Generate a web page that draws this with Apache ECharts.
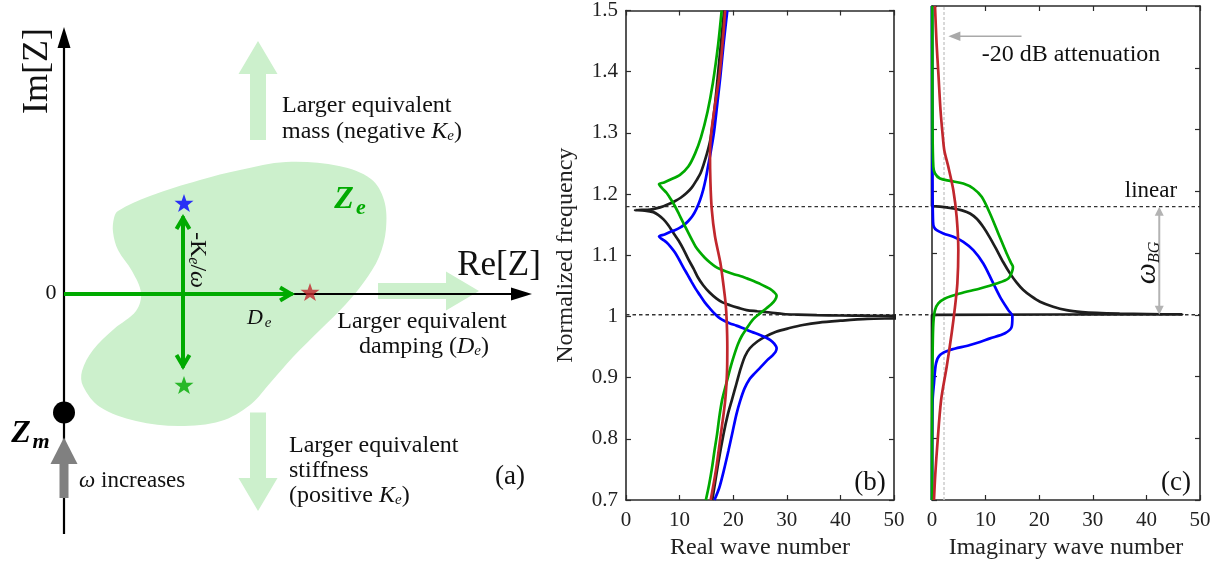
<!DOCTYPE html>
<html>
<head>
<meta charset="utf-8">
<script src="https://cdn.jsdelivr.net/npm/echarts@6/dist/echarts.min.js"></script>
<style>
  html, body { margin: 0; padding: 0; background: #fff; }
  #chart { width: 1222px; height: 565px; }
</style>
</head>
<body>
<div id="chart"></div>
<script>
// ---------- Panel (a): impedance plane schematic (Re/Im in arbitrary units) ----------
const zeRegion = [
  [5.0, 7.6], [5.4, 8.3], [8.6, 9.8], [13.6, 11.4], [17.6, 12.4], [22.2, 13.2], [27.5, 12.8],
  [30.7, 11.5], [32.0, 9.4], [32.2, 6.5], [31.5, 3.7], [30.0, 1.2], [28.2, -1.0], [25.7, -3.5],
  [22.9, -6.3], [20.7, -8.8], [18.6, -11.1], [15.7, -12.7], [11.5, -13.2], [7.2, -12.7],
  [3.6, -11.3], [1.9, -9.2], [1.8, -7.7], [2.9, -5.6], [5.0, -3.5], [7.2, -1.7], [7.7, 0.1],
  [6.8, 2.3], [5.4, 4.4], [4.9, 6.2]
];
const imAxis = [0, -24, 0, 26.7];
const reAxis = [0, 0, 46.8, 0];
const dampingArrow = [0, 0, 23.1, 0];
const stiffnessArrow = [11.9, 8.0, 11.9, -7.6];
const trendArrows = [
  [19.4, 15.4, 19.4, 25.3],    // larger equivalent mass
  [19.4, -11.85, 19.4, -21.7], // larger equivalent stiffness
  [31.4, 0.3, 41.5, 0.3]       // larger equivalent damping
];
const omegaArrow = [0, -20.4, 0, -14.35];
const zmPoint = [0, -11.85];
const zePoints = [[12.0, 9.1], [12.0, -9.1], [24.6, 0.2]];

// ---------- Panels (b), (c): dispersion curves [wave number, normalized frequency] ----------
const waveTicks = [0, 10, 20, 30, 40, 50];
const freqTicks = [0.7, 0.8, 0.9, 1.0, 1.1, 1.2, 1.3, 1.4, 1.5];
const guideLevels = [1.175, 1.0];   // linear band edge and resonance
const attenuationLevel = 2.24;      // -20 dB attenuation in imaginary wave number
const attenuationArrow = [16.7, 1.451, 3.05, 1.451];
const bandgapArrow = [42.4, 1.0, 42.4, 1.175];

const realBlack = [
  [16.1,0.70],[17.2,0.76],[18.2,0.808],[19.0,0.84],[19.8,0.865],[20.6,0.89],[21.4,0.915],[22.2,0.935],
  [23.1,0.948],[24.5,0.959],[26.0,0.967],[28.0,0.975],[30.5,0.981],[33.0,0.986],[36.0,0.990],[40.0,0.993],
  [45.0,0.996],[52.0,0.998],
  [52.0,1.001],[45.0,1.0012],[40.0,1.0015],[35.6,1.002],[32.0,1.003],[29.4,1.004],[26.9,1.0064],[24.5,1.0085],
  [22.5,1.0103],[21.0,1.014],[19.4,1.0184],[18.0,1.023],[16.9,1.029],[15.6,1.039],[14.4,1.051],[13.4,1.064],
  [12.6,1.078],[11.6,1.094],[10.7,1.110],[9.8,1.124],[8.8,1.137],[7.9,1.149],[7.0,1.1586],[6.0,1.166],
  [5.1,1.1705],[3.5,1.173],[1.7,1.1737],[3.0,1.174],[4.5,1.1747],[5.8,1.177],[7.0,1.1802],[8.1,1.184],
  [9.1,1.1883],[10.2,1.194],[11.3,1.2017],[12.3,1.211],[13.2,1.2232],[13.9,1.234],[14.43,1.247],[15.1,1.266],
  [15.7,1.287],[16.1,1.31],[16.6,1.346],[17.1,1.39],[17.7,1.445],[18.3,1.5]
];
const realBlue = [
  [18.9,1.5],[18.2,1.445],[17.6,1.392],[17.0,1.345],[16.4,1.30],[15.75,1.266],[15.3,1.245],[14.9,1.226],
  [14.4,1.207],[13.8,1.19],[13.1,1.175],[12.4,1.164],[11.63,1.1559],[10.9,1.150],[10.07,1.1451],[9.1,1.141],
  [8.21,1.1381],[7.2,1.134],[6.16,1.1305],[6.8,1.126],[7.59,1.1208],[8.4,1.113],[9.14,1.1046],[9.9,1.093],
  [10.69,1.0803],[11.5,1.068],[12.26,1.0561],[13.0,1.045],[13.81,1.0345],[14.7,1.023],[15.67,1.0129],[16.6,1.004],
  [17.54,0.9967],[18.5,0.992],[19.4,0.9886],[20.6,0.985],[21.88,0.9805],[23.4,0.975],[25.0,0.9698],[26.0,0.966],
  [26.87,0.9617],[27.6,0.956],[28.1,0.948],[27.9,0.942],[27.3,0.936],[26.4,0.929],[25.0,0.916],[24.0,0.907],
  [23.1,0.898],[22.1,0.882],[21.3,0.862],[20.6,0.84],[19.9,0.812],[19.1,0.78],[18.3,0.75],[17.4,0.72],[16.5,0.70]
];
const realGreen = [
  [17.85,1.5],[17.2,1.445],[16.2,1.381],[15.2,1.334],[14.0,1.293],[12.9,1.2665],[11.63,1.2449],[10.07,1.2314],
  [8.21,1.2233],[7.1,1.219],[6.16,1.2163],[6.8,1.209],[7.59,1.2017],[8.4,1.191],[9.14,1.1801],[9.9,1.167],
  [10.69,1.153],[11.5,1.139],[12.26,1.126],[13.0,1.114],[13.81,1.1047],[14.7,1.096],[15.67,1.0882],[16.6,1.082],
  [17.54,1.0774],[18.8,1.073],[20.0,1.0693],[21.3,1.066],[22.5,1.0623],[23.8,1.058],[25.0,1.0532],[26.0,1.049],
  [26.87,1.045],[27.6,1.04],[28.1,1.034],[27.8,1.027],[27.1,1.02],[26.2,1.0134],[25.0,1.005],[23.8,0.996],
  [23.1,0.988],[22.4,0.979],[21.6,0.968],[20.9,0.955],[20.3,0.94],[19.6,0.92],[19.0,0.90],[18.4,0.88],
  [17.9,0.862],[17.4,0.835],[17.0,0.808],[16.5,0.78],[16.0,0.75],[15.5,0.725],[14.9,0.70]
];
const realRed = [
  [15.8,0.70],[16.8,0.75],[17.7,0.808],[18.5,0.862],[18.85,0.91],[18.9,0.95],[18.8,0.99],[18.6,1.02],
  [18.2,1.05],[17.6,1.088],[16.6,1.131],[16.0,1.175],[15.75,1.22],[15.67,1.266],[15.9,1.30],[16.6,1.345],
  [17.4,1.392],[18.0,1.445],[18.5,1.5]
];

const imagBlack = [
  [0,1.5],[0,1.176],[1.5,1.1752],[3.98,1.172],[5.6,1.169],[7.09,1.164],[8.4,1.155],[9.57,1.142],[10.8,1.125],
  [12.07,1.105],[13.3,1.085],[14.55,1.067],[15.8,1.052],[17.04,1.04],[18.5,1.03],[20.15,1.021],[22.6,1.013],
  [25.1,1.0076],[28.0,1.0045],[30.7,1.003],[35.0,1.0018],[40.1,1.001],[46.7,1.0005],[46.7,0.9998],[0,0.9998],[0,0.7]
];
const imagBlue = [
  [0,1.5],[0.05,1.30],[0.1,1.20],[0.2,1.15],[0.35,1.1423],[0.87,1.137],[2.11,1.1317],[3.98,1.1262],[5.84,1.118],
  [7.71,1.1046],[9.57,1.083],[11.14,1.0561],[12.69,1.029],[14.24,1.0075],[15.0,0.998],[14.87,0.9805],[13.62,0.970],
  [10.82,0.9617],[7.09,0.951],[3.36,0.9428],[1.49,0.9347],[0.75,0.9213],[0.37,0.889],[0.12,0.862],[0.03,0.8],[0,0.7]
];
const imagGreen = [
  [0.05,1.5],[0.1,1.30],[0.25,1.2394],[0.56,1.2287],[1.49,1.2206],[3.36,1.2168],[5.84,1.2125],[7.71,1.2045],
  [9.27,1.1909],[10.82,1.164],[12.37,1.1316],[13.93,1.0993],[14.8,1.083],[15.1,1.0776],[15.0,1.0715],[14.24,1.0588],
  [12.07,1.0507],[8.96,1.0426],[5.22,1.0345],[2.43,1.0264],[1.18,1.0183],[0.56,1.0075],[0.25,0.986],[0.12,0.9428],
  [0.02,0.862],[0,0.7]
];
const imagRed = [
  [0.56,1.5],[0.85,1.44],[1.18,1.392],[1.6,1.33],[2.0,1.29],[2.3,1.266],[3.05,1.2394],[3.98,1.2017],[4.6,1.1585],
  [4.91,1.1046],[4.73,1.0507],[4.29,1.0129],[3.67,0.970],[2.74,0.9158],[1.7,0.862],[1.0,0.79],[0.6,0.74],[0.37,0.7]
];

// ---------- styling ----------
const SERIF = '"Liberation Serif", "Times New Roman", Times, serif';
const INK = '#111111';
const AXIS = '#2b2b2b';
const GREEN = '#00aa00', BLUE = '#0000ff', RED = '#c1272d', BLACK = '#1e1e1e';
const PALE = '#ccf0cc', GREY = '#808080';

function arrowPath(p0, p1, o) {
  const dx = p1[0] - p0[0], dy = p1[1] - p0[1], L = Math.hypot(dx, dy) || 1;
  const ux = dx / L, uy = dy / L, nx = -uy, ny = ux;
  const ext = o.open ? (o.width / 2) / Math.sin(Math.atan2(o.half, o.len)) : 0;
  const head = (t, sx, sy) => {
    const tx = t[0] - sx * ext, ty = t[1] - sy * ext;
    const bx = tx - sx * o.len, by = ty - sy * o.len;
    const pts = [[bx + nx * o.half, by + ny * o.half], [tx, ty], [bx - nx * o.half, by - ny * o.half]];
    return o.open
      ? { type: 'polyline', shape: { points: pts }, style: { stroke: o.color, lineWidth: o.width, fill: null, lineJoin: 'miter' } }
      : { type: 'polygon', shape: { points: pts }, style: { fill: o.color } };
  };
  const cut = o.open ? o.width * 0.6 : o.len * 0.7;
  const a = o.both ? [p0[0] + ux * cut, p0[1] + uy * cut] : p0;
  const b = [p1[0] - ux * cut, p1[1] - uy * cut];
  const children = [
    { type: 'line', shape: { x1: a[0], y1: a[1], x2: b[0], y2: b[1] }, style: { stroke: o.color, lineWidth: o.width } },
    head(p1, ux, uy)
  ];
  if (o.both) children.push(head(p0, -ux, -uy));
  return { type: 'group', children };
}

function arrowSeries(data, xi, yi, o, z) {
  return {
    type: 'custom', xAxisIndex: xi, yAxisIndex: yi, data, clip: false, silent: true, z: z || 3,
    renderItem: (params, api) => arrowPath(
      api.coord([api.value(0), api.value(1)]), api.coord([api.value(2), api.value(3)]), o)
  };
}

function blockArrowSeries(data, shaft, half, len) {
  return {
    type: 'custom', xAxisIndex: 0, yAxisIndex: 0, data, clip: false, silent: true, z: 1,
    renderItem: (params, api) => {
      const p0 = api.coord([api.value(0), api.value(1)]);
      const p1 = api.coord([api.value(2), api.value(3)]);
      const dx = p1[0] - p0[0], dy = p1[1] - p0[1], L = Math.hypot(dx, dy);
      const ux = dx / L, uy = dy / L, nx = -uy, ny = ux;
      const bx = p1[0] - ux * len, by = p1[1] - uy * len;
      return {
        type: 'polygon',
        shape: { points: [
          [p0[0] + nx * shaft, p0[1] + ny * shaft], [bx + nx * shaft, by + ny * shaft],
          [bx + nx * half, by + ny * half], p1, [bx - nx * half, by - ny * half],
          [bx - nx * shaft, by - ny * shaft], [p0[0] - nx * shaft, p0[1] - ny * shaft]
        ] },
        style: { fill: PALE }
      };
    }
  };
}

function curve(data, color, xi, yi) {
  return {
    type: 'line', xAxisIndex: xi, yAxisIndex: yi, data, showSymbol: false, smooth: 0.3,
    silent: true, z: 2, lineStyle: { color, width: 2.7 }
  };
}

function frameAxis(grid, pos, extra) {
  return Object.assign({
    gridIndex: grid, type: 'value', position: pos,
    axisLine: { show: true, onZero: false, lineStyle: { color: AXIS, width: 1.6 } },
    axisTick: { show: true, inside: true, length: 5, lineStyle: { color: AXIS, width: 1.2 } },
    axisLabel: { show: false }, splitLine: { show: false }
  }, extra);
}

const waveRange = { min: waveTicks[0], max: waveTicks[waveTicks.length - 1], interval: waveTicks[1] - waveTicks[0] };
const freqRange = { min: freqTicks[0], max: freqTicks[freqTicks.length - 1], interval: 0.1 };
const tickLabel = { show: true, fontFamily: SERIF, fontSize: 21, color: '#222' };
const axisName = { fontFamily: SERIF, fontSize: 24, color: '#222' };

function T(x, y, text, size, style, el) {
  return Object.assign({
    type: 'text', x, y, z: 50, silent: true,
    style: Object.assign({ text, fontFamily: SERIF, fontSize: size, fill: INK, align: 'center', verticalAlign: 'middle' }, style || {})
  }, el || {});
}
function tok(size, italic, extra) {
  return Object.assign({ fontFamily: SERIF, fontSize: size, fontStyle: italic ? 'italic' : 'normal', fill: INK, color: INK,
    lineHeight: Math.round(size * 1.1), verticalAlign: 'bottom' }, extra || {});
}
function sub(size) { return tok(size, true, { lineHeight: Math.round(size * 0.9) }); }

const graphic = [
  T(38, 71, 'Im[Z]', 36, null, { rotation: Math.PI / 2 }),
  T(499, 266, 'Re[Z]', 35),
  T(51, 293, '0', 22),
  T(344, 200, 'Z', 32, { fontStyle: 'italic', fontWeight: 'bold', fill: GREEN }),
  T(361, 208, 'e', 22, { fontStyle: 'italic', fontWeight: 'bold', fill: GREEN }),
  T(21, 434, 'Z', 32, { fontStyle: 'italic', fontWeight: 'bold', fill: '#000' }),
  T(41, 442, 'm', 22, { fontStyle: 'italic', fontWeight: 'bold', fill: '#000' }),
  T(198, 260, '{r|-K}{s|e}{r|/}{w|ω}', 24, { rich: { r: tok(24, false), s: sub(16), w: tok(24, true) } }, { rotation: -Math.PI / 2 }),
  T(255, 318, 'D', 22, { fontStyle: 'italic' }),
  T(268, 323, 'e', 15, { fontStyle: 'italic' }),
  T(282, 106, 'Larger equivalent', 24, { align: 'left' }),
  T(282, 131, '{r|mass (negative }{i|K}{s|e}{r|)}', 24, { align: 'left', rich: { r: tok(24, false), i: tok(24, true), s: sub(15) } }),
  T(422, 322, 'Larger equivalent', 24),
  T(424, 346, '{r|damping (}{i|D}{s|e}{r|)}', 24, { rich: { r: tok(24, false), i: tok(24, true), s: sub(15) } }),
  T(289, 446, 'Larger equivalent', 24, { align: 'left' }),
  T(289, 471, 'stiffness', 24, { align: 'left' }),
  T(289, 495, '{r|(positive }{i|K}{s|e}{r|)}', 24, { align: 'left', rich: { r: tok(24, false), i: tok(24, true), s: sub(15) } }),
  T(510, 477, '(a)', 27),
  T(79, 480, '{w|ω}{r| increases}', 23, { align: 'left', rich: { w: tok(23, true), r: tok(23, false) } }),
  T(870, 483, '(b)', 27),
  T(1176, 483, '(c)', 27),
  T(1071, 55, '-20 dB attenuation', 24),
  T(1151, 191, 'linear', 23),
  T(1146, 263, '{w|ω}{s|BG}', 30, { rich: { w: tok(30, true), s: sub(16) } }, { rotation: Math.PI / 2 })
];

const option = {
  animation: false,
  backgroundColor: '#ffffff',
  grid: [
    { left: 0, top: 0, width: 560, height: 565 },
    { left: 626, top: 6, width: 268, height: 494 },
    { left: 932, top: 6, width: 268, height: 494 },
    { left: 626, top: 6, width: 574, height: 494 }
  ],
  xAxis: [
    { gridIndex: 0, type: 'value', min: -6.4, max: 49.6, show: false },
    frameAxis(1, 'bottom', Object.assign({}, waveRange, { axisLabel: Object.assign({ margin: 10 }, tickLabel),
      name: 'Real wave number', nameLocation: 'middle', nameGap: 31, nameTextStyle: axisName })),
    frameAxis(1, 'top', waveRange),
    frameAxis(2, 'bottom', Object.assign({}, waveRange, { axisLabel: Object.assign({ margin: 10 }, tickLabel),
      name: 'Imaginary wave number', nameLocation: 'middle', nameGap: 31, nameTextStyle: axisName })),
    frameAxis(2, 'top', waveRange),
    { gridIndex: 3, type: 'value', min: 0, max: 1, show: false }
  ],
  yAxis: [
    { gridIndex: 0, type: 'value', min: -27.1, max: 29.4, show: false },
    frameAxis(1, 'left', Object.assign({}, freqRange, { axisLabel: Object.assign({ margin: 8 }, tickLabel),
      name: 'Normalized frequency', nameLocation: 'middle', nameGap: 48, nameTextStyle: axisName })),
    frameAxis(1, 'right', freqRange),
    frameAxis(2, 'left', freqRange),
    frameAxis(2, 'right', freqRange),
    Object.assign({ gridIndex: 3, type: 'value', show: false }, freqRange)
  ],
  graphic,
  series: [
    // schematic
    { type: 'custom', xAxisIndex: 0, yAxisIndex: 0, data: [[0, 0]], clip: false, silent: true, z: 1,
      renderItem: (params, api) => ({ type: 'polygon',
        shape: { points: zeRegion.map(p => api.coord(p)), smooth: 0.35 }, style: { fill: PALE } }) },
    blockArrowSeries(trendArrows, 8, 19.5, 33),
    arrowSeries([imAxis, reAxis], 0, 0, { color: '#000', width: 2.2, len: 21, half: 6.5 }, 2),
    arrowSeries([dampingArrow], 0, 0, { color: GREEN, width: 4, len: 11, half: 6.5, open: true }, 3),
    arrowSeries([stiffnessArrow], 0, 0, { color: GREEN, width: 4, len: 11, half: 6.5, open: true, both: true }, 3),
    { type: 'scatter', xAxisIndex: 0, yAxisIndex: 0, silent: true, z: 4,
      symbol: 'path://M12,0.5L14.8,8.6L23.4,8.7L16.5,13.9L19.1,22.1L12,17.2L4.9,22.1L7.5,13.9L0.6,8.7L9.2,8.6Z',
      symbolSize: [19, 18],
      data: zePoints.map((p, i) => ({ value: p, itemStyle: { color: [BLUE, GREEN, RED][i] } })) },
    arrowSeries([omegaArrow], 0, 0, { color: GREY, width: 9, len: 26.5, half: 13.5 }, 4),
    { type: 'scatter', xAxisIndex: 0, yAxisIndex: 0, silent: true, z: 5, symbol: 'circle', symbolSize: 22,
      itemStyle: { color: '#000', opacity: 1 }, data: [zmPoint] },

    // reference levels spanning both dispersion panels
    ...guideLevels.map(v => ({
      type: 'line', xAxisIndex: 5, yAxisIndex: 5, data: [[0, v], [1, v]], showSymbol: false, silent: true, z: 1,
      lineStyle: { color: '#333', width: 1.3, type: [3.5, 3] }
    })),

    // real wave number
    curve(realBlack, BLACK, 1, 1),
    curve(realBlue, BLUE, 1, 1),
    curve(realGreen, GREEN, 1, 1),
    curve(realRed, RED, 1, 1),

    // imaginary wave number
    { type: 'line', xAxisIndex: 3, yAxisIndex: 3, data: [[attenuationLevel, 0.7], [attenuationLevel, 1.5]],
      showSymbol: false, silent: true, z: 1, lineStyle: { color: '#cccccc', width: 1.5, type: [3, 2] } },
    curve(imagBlack, BLACK, 3, 3),
    curve(imagBlue, BLUE, 3, 3),
    curve(imagGreen, GREEN, 3, 3),
    curve(imagRed, RED, 3, 3),
    arrowSeries([attenuationArrow], 3, 3, { color: '#a9a9a9', width: 1.5, len: 12, half: 4.8 }, 3),
    arrowSeries([bandgapArrow], 3, 3, { color: '#b3b3b3', width: 2, len: 9, half: 4.5, both: true }, 3)
  ]
};

const chart = echarts.init(document.getElementById('chart'), null, { renderer: 'canvas' });
chart.setOption(option);
</script>
</body>
</html>
